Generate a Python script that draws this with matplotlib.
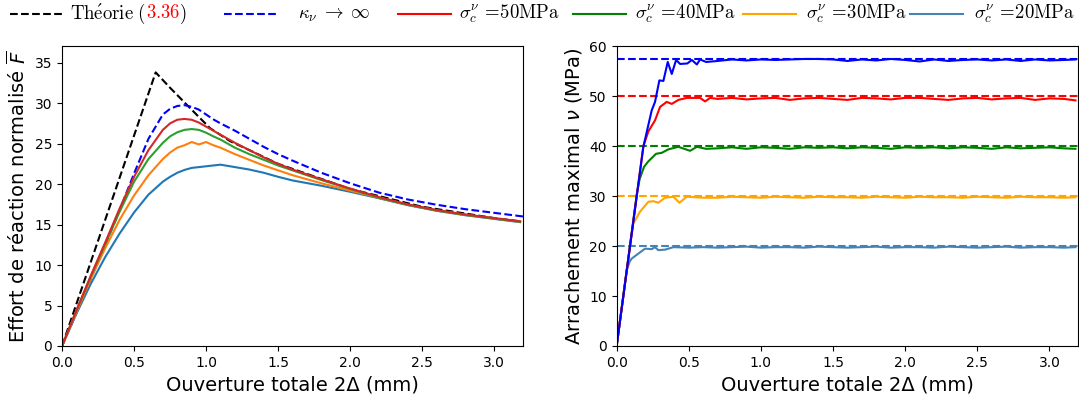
import matplotlib
matplotlib.use("Agg")
import matplotlib.pyplot as plt
from matplotlib.font_manager import FontProperties
from matplotlib.lines import Line2D

# ---- left panel: normalised reaction force vs total opening ----
x_left = [0, 0.1, 0.2, 0.3, 0.4, 0.5, 0.6, 0.7, 0.75, 0.8, 0.85, 0.9, 0.95, 1.0, 1.05,
          1.1, 1.2, 1.3, 1.4, 1.5, 1.6, 1.8, 2.0, 2.2, 2.4, 2.6, 2.8, 3.0, 3.18]
f_50 = [0, 4.4, 8.7, 12.8, 17.0, 20.9, 24.2, 26.7, 27.5, 27.95, 28.05, 27.95, 27.6, 27.1, 26.6,
        26.1, 25.1, 24.2, 23.3, 22.5, 21.8, 20.6, 19.45, 18.4, 17.5, 16.8, 16.25, 15.8, 15.4]
f_40 = [0, 4.4, 8.6, 12.6, 16.6, 20.3, 23.1, 25.1, 25.9, 26.4, 26.7, 26.8, 26.7, 26.35, 25.9,
        25.5, 24.5, 23.7, 23.0, 22.3, 21.7, 20.5, 19.4, 18.3, 17.45, 16.75, 16.2, 15.75, 15.35]
f_30 = [0, 4.2, 8.3, 12.1, 15.6, 18.6, 21.1, 23.1, 23.9, 24.5, 24.8, 25.2, 24.9, 25.2, 24.8,
        24.5, 23.7, 23.0, 22.3, 21.7, 21.1, 20.1, 19.2, 18.3, 17.45, 16.75, 16.2, 15.75, 15.35]
f_20 = [0, 4.0, 7.7, 11.0, 13.9, 16.5, 18.7, 20.3, 20.9, 21.4, 21.75, 22.0, 22.1, 22.2, 22.3,
        22.4, 22.1, 21.8, 21.4, 20.9, 20.45, 19.8, 19.05, 18.25, 17.4, 16.7, 16.15, 15.7, 15.3]

x_kappa = [0, 0.1, 0.2, 0.3, 0.4, 0.5, 0.6, 0.7, 0.75, 0.8, 0.85, 0.9, 0.95, 1.0, 1.05,
           1.1, 1.2, 1.3, 1.4, 1.5, 1.6, 1.8, 2.0, 2.2, 2.4, 2.6, 2.8, 3.0, 3.2]
f_kappa = [0, 4.1, 8.3, 12.5, 16.8, 21.3, 25.6, 28.6, 29.3, 29.65, 29.75, 29.55, 29.2, 28.6, 28.0,
           27.5, 26.6, 25.6, 24.6, 23.7, 22.9, 21.4, 20.1, 18.95, 18.1, 17.45, 16.9, 16.45, 16.0]

x_theo = [0, 0.65, 0.75, 0.877, 1.028, 1.167, 1.3, 1.5, 2.0, 2.5, 3.0, 3.18]
f_theo = [0, 33.8, 31.9, 29.6, 26.9, 25.3, 24.2, 22.5, 19.4, 17.2, 15.8, 15.4]

# ---- right panel: maximal pull-out stress vs total opening ----
x_tail = [0.7, 0.8, 0.9, 1.0, 1.1, 1.2, 1.3, 1.4, 1.5, 1.6, 1.7, 1.8, 1.9, 2.0, 2.1,
          2.2, 2.3, 2.4, 2.5, 2.6, 2.7, 2.8, 2.9, 3.0, 3.1, 3.18]

x_rise_inf = [0, 0.185, 0.243, 0.266, 0.296, 0.324, 0.354, 0.382, 0.412, 0.44, 0.49, 0.521, 0.556, 0.578, 0.62]
nu_rise_inf = [0, 39.9, 47.2, 48.9, 53.2, 53.1, 56.9, 54.5, 57.3, 56.5, 56.6, 57.3, 56.4, 57.4, 56.9]
nu_tail_inf = [57.1, 57.4, 57.2, 57.4, 57.3, 57.4, 57.5, 57.5, 57.4, 57.1, 57.4, 57.2, 57.5, 57.3, 57.0,
               57.4, 57.1, 57.3, 57.4, 57.2, 57.4, 57.1, 57.4, 57.2, 57.3, 57.4]

x_rise_50 = [0, 0.185, 0.22, 0.266, 0.301, 0.347, 0.382, 0.428, 0.486, 0.578, 0.613, 0.648]
nu_rise_50 = [0, 40.0, 43.0, 45.2, 47.9, 48.9, 48.5, 49.3, 49.7, 49.7, 49.0, 49.7]
nu_tail_50 = [49.5, 49.7, 49.4, 49.6, 49.7, 49.3, 49.6, 49.7, 49.5, 49.3, 49.7, 49.6, 49.4, 49.7, 49.7,
              49.5, 49.3, 49.6, 49.7, 49.4, 49.6, 49.7, 49.3, 49.6, 49.5, 49.2]

x_rise_40 = [0, 0.14, 0.16, 0.19, 0.22, 0.273, 0.313, 0.359, 0.428, 0.509, 0.556, 0.62]
nu_rise_40 = [0, 30.5, 33.5, 35.9, 37.0, 38.5, 38.7, 39.4, 39.9, 39.1, 39.9, 39.5]
nu_tail_40 = [39.6, 39.8, 39.5, 39.8, 39.7, 39.5, 39.8, 39.7, 39.8, 39.6, 39.8, 39.7, 39.5, 39.8, 39.7,
              39.8, 39.6, 39.8, 39.7, 39.5, 39.8, 39.6, 39.7, 39.8, 39.6, 39.5]

x_rise_30 = [0, 0.1, 0.115, 0.162, 0.22, 0.255, 0.289, 0.335, 0.393, 0.435, 0.486, 0.6]
nu_rise_30 = [0, 21.6, 24.5, 26.9, 28.9, 29.0, 28.7, 29.7, 29.9, 28.7, 29.9, 29.7]
nu_tail_30 = [29.7, 29.9, 29.8, 29.7, 29.9, 29.8, 29.7, 29.9, 29.8, 29.8, 29.7, 29.9, 29.8, 29.7, 29.9,
              29.8, 29.8, 29.7, 29.9, 29.8, 29.7, 29.9, 29.8, 29.8, 29.7, 29.8]

x_rise_20 = [0, 0.07, 0.09, 0.104, 0.15, 0.197, 0.243, 0.266, 0.289, 0.335, 0.393, 0.5, 0.6]
nu_rise_20 = [0, 15.2, 16.9, 17.5, 18.5, 19.5, 19.4, 19.8, 19.2, 19.3, 19.8, 19.7, 19.8]
nu_tail_20 = [19.7, 19.8, 19.9, 19.7, 19.8, 19.8, 19.7, 19.9, 19.8, 19.7, 19.8, 19.9, 19.7, 19.8, 19.8,
              19.7, 19.9, 19.8, 19.7, 19.8, 19.9, 19.7, 19.8, 19.8, 19.7, 19.8]

sigma_levels = [57.5, 50, 40, 30, 20]
level_colors = ["blue", "red", "green", "orange", "steelblue"]
sigma_labels = ["50MPa", "40MPa", "30MPa", "20MPa"]
eq_number = "3.36"

W, H = 1079, 396
fig = plt.figure(figsize=(W / 100, H / 100), dpi=100)
ax1 = fig.add_axes([0.0575, 0.1263, 0.4272, 0.7563])
ax2 = fig.add_axes([0.5715, 0.1263, 0.4279, 0.7563])

ax1.plot(x_theo, f_theo, "k--", lw=1.5)
ax1.plot(x_kappa, f_kappa, "b--", lw=1.5)
ax1.plot(x_left, f_20, color="tab:blue", lw=1.5)
ax1.plot(x_left, f_30, color="tab:orange", lw=1.5)
ax1.plot(x_left, f_40, color="tab:green", lw=1.5)
ax1.plot(x_left, f_50, color="tab:red", lw=1.5)
ax1.set_xlim(0, 3.2)
ax1.set_ylim(0, 37)
ax1.set_xlabel("Ouverture totale 2Δ (mm)", fontsize=14)
ax1.set_ylabel(r"Effort de réaction normalisé $\overline{F}$", fontsize=14)

for lev, c in zip(sigma_levels, level_colors):
    ax2.axhline(lev, color=c, ls="--", lw=1.5)
ax2.plot(x_rise_20 + x_tail, nu_rise_20 + nu_tail_20, color="steelblue", lw=1.5)
ax2.plot(x_rise_30 + x_tail, nu_rise_30 + nu_tail_30, color="orange", lw=1.5)
ax2.plot(x_rise_40 + x_tail, nu_rise_40 + nu_tail_40, color="green", lw=1.5)
ax2.plot(x_rise_50 + x_tail, nu_rise_50 + nu_tail_50, color="red", lw=1.5)
ax2.plot(x_rise_inf + x_tail, nu_rise_inf + nu_tail_inf, color="blue", lw=1.5)
ax2.set_xlim(0, 3.2)
ax2.set_ylim(0, 60)
ax2.set_xlabel("Ouverture totale 2Δ (mm)", fontsize=14)
ax2.set_ylabel(r"Arrachement maximal $\nu$ (MPa)", fontsize=14)

for ax in (ax1, ax2):
    ax.tick_params(labelsize=10)

# ---- legend row, laid out by hand (Computer Modern like the LaTeX original) ----
fp = FontProperties(size=13.5, math_fontfamily="cm")
r = fig.canvas.get_renderer()


def text_width(s):
    tmp = fig.text(0, 0, s, fontproperties=fp)
    w = tmp.get_window_extent(r).width
    tmp.remove()
    return w


# advances inside "Théorie (3.36)" measured by difference, so box padding cancels
theo_pre, theo_num, theo_post = r"\mathrm{Th\acute{e}orie}\ (", r"\mathrm{%s}" % eq_number, ")"
w_all = text_width("$" + theo_pre + theo_num + theo_post + "$")
off_num = w_all - text_width("$" + theo_num + theo_post + "$")
off_post = w_all - text_width("$" + theo_post + "$")

entries = [
    # (handle start px, text start px, colour, linestyle, [(text, colour, offset px)])
    (10, 70.5, "k", "--", [("$" + theo_pre + "$", "k", 0),
                           ("$" + theo_num + "$", "red", off_num),
                           ("$" + theo_post + "$", "k", off_post)]),
    (223.5, 297.5, "b", "--", [(r"$\kappa_\nu\;\rightarrow\;\infty$", "k", 0)]),
]
for (hx, tx), c, lab in zip([(398, 459), (573, 635), (743, 805.5), (910, 974)],
                            level_colors[1:], sigma_labels):
    entries.append((hx, tx, c, "-", [(r"$\sigma_c^\nu\,=\!\mathrm{%s}$" % lab, "k", 0)]))

y_line = (H - 13.5) / H
y_base = (H - 18.5) / H
for hx, tx, c, ls, pieces in entries:
    fig.add_artist(Line2D([hx / W, (hx + 52.5) / W], [y_line, y_line],
                          transform=fig.transFigure, color=c, ls=ls, lw=1.5))
    for s, col, off in pieces:
        fig.text((tx + off) / W, y_base, s, fontproperties=fp, color=col,
                 ha="left", va="baseline")

fig.savefig("out.png", dpi=100)
